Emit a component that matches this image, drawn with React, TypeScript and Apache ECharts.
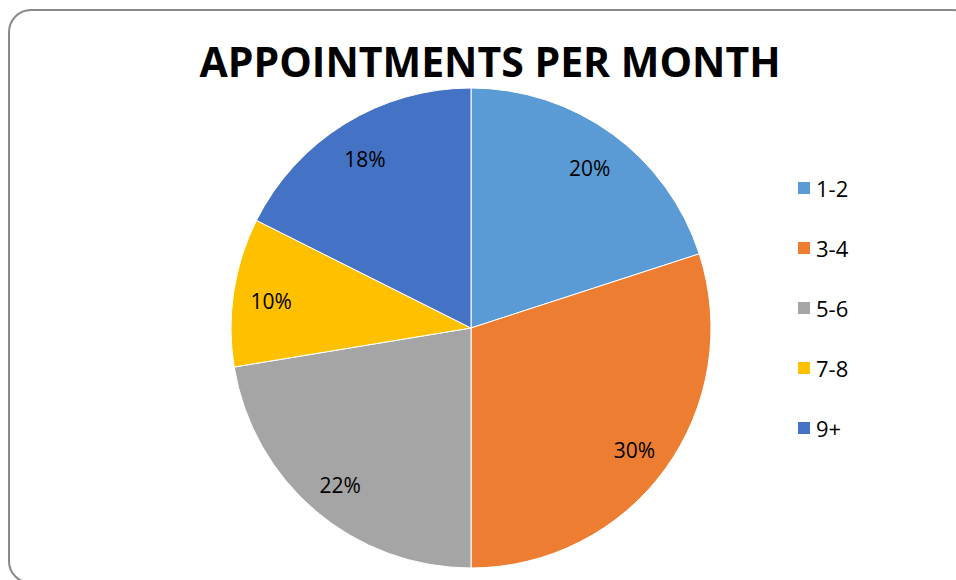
import React, { useEffect, useRef } from "react";
import * as echarts from "echarts";

const categories = ["1-2", "3-4", "5-6", "7-8", "9+"];
const values = [20, 30, 22.4, 10, 17.6];
const colors = ["#5B9BD5", "#ED7D31", "#A5A5A5", "#FFC000", "#4472C4"];
const titleText = "APPOINTMENTS PER MONTH";

export default function App() {
  const ref = useRef<HTMLDivElement>(null);
  useEffect(() => {
    if (!ref.current) return;
    const chart = echarts.init(ref.current, undefined, { renderer: "svg" });
    const data = categories.map((c, i) => ({
      name: c,
      value: values[i],
      itemStyle: { color: colors[i] },
    }));
    const labelData = categories.map((c, i) => ({
      name: c,
      value: values[i],
    }));
    chart.setOption({
      animation: false,
      backgroundColor: "#ffffff",
      title: {
        text: titleText,
        left: 485,
        top: 35,
        textAlign: "center",
        textStyle: {
          fontFamily: "Open Sans",
          fontWeight: "bold",
          fontSize: 41,
          color: "#000000",
        },
      },
      legend: {
        orient: "vertical",
        left: 791,
        top: 172,
        itemWidth: 14,
        itemHeight: 14,
        itemGap: 38,
        icon: "rect",
        data: categories,
        textStyle: {
          fontFamily: "Open Sans",
          fontSize: 22,
          lineHeight: 22,
          color: "#000000",
        },
      },
      graphic: [
        {
          type: "rect",
          shape: { x: 9, y: 10, width: 965, height: 573, r: 22 },
          style: { fill: "none", stroke: "#898989", lineWidth: 2 },
          z: 100,
        },
      ],
      series: [
        {
          type: "pie",
          center: [471, 328],
          radius: [0, 240],
          startAngle: 90,
          clockwise: true,
          data,
          label: { show: false },
          labelLine: { show: false },
          itemStyle: { borderColor: "#ffffff", borderWidth: 1 },
          emphasis: { disabled: true },
        },
        {
          type: "pie",
          center: [471, 328],
          radius: [158, 240],
          startAngle: 90,
          clockwise: true,
          silent: true,
          percentPrecision: 0,
          data: labelData,
          itemStyle: { color: "rgba(0,0,0,0)" },
          label: {
            show: true,
            position: "inside",
            formatter: "{d}%",
            fontFamily: "Open Sans",
            fontSize: 21,
            color: "#000000",
          },
          labelLayout: { dy: 3 },
          labelLine: { show: false },
          emphasis: { disabled: true },
        },
      ],
    });
    return () => chart.dispose();
  }, []);
  return (
    <div
      ref={ref}
      style={{ position: "fixed", left: 0, top: 0, width: 956, height: 580 }}
    />
  );
}
